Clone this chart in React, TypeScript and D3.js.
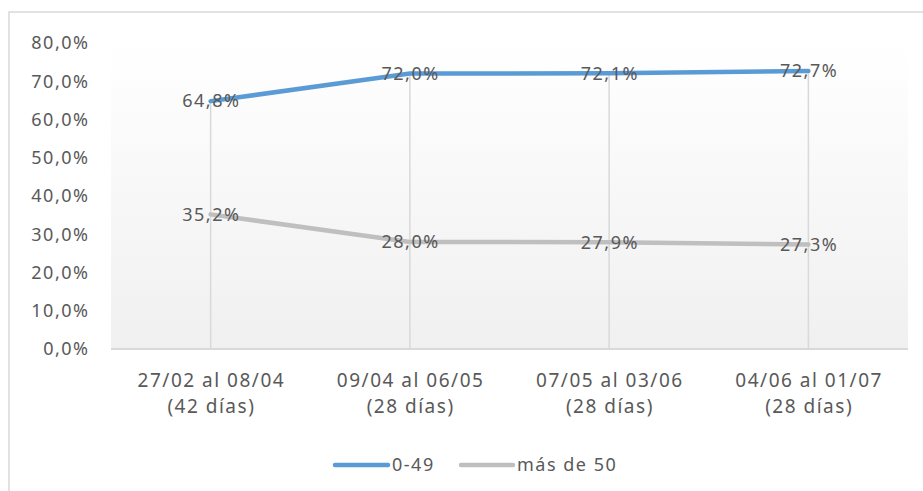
import React from "react";
import * as d3 from "d3";

const categories = ["27/02 al 08/04|(42 días)", "09/04 al 06/05|(28 días)", "07/05 al 03/06|(28 días)", "04/06 al 01/07|(28 días)"];
const series049 = [64.8, 72.0, 72.1, 72.7];
const series50 = [35.2, 28.0, 27.9, 27.3];
const yTicks = [0, 10, 20, 30, 40, 50, 60, 70, 80];
const seriesNames = ["0-49", "más de 50"];
const colors = ["#5b9bd5", "#bfbfbf"];

const W = 923, H = 491;
const left = 111, right = 908, top = 43, bottom = 349;
const FONT = "'Noto Sans', sans-serif";
const TXT = "#595959";
const LS = 1.5;

const fmt = (v: number) => v.toFixed(1).replace(".", ",") + "%";

export default function App() {
  const x = d3.scaleBand<string>().domain(categories).range([left, right]);
  const y = d3.scaleLinear().domain([0, 80]).range([bottom, top]);
  const cx = (c: string) => (x(c) as number) + x.bandwidth() / 2;
  const line = d3.line<number>().x((_, i) => cx(categories[i])).y((d) => y(d));
  const allSeries = [series049, series50];
  return (
    <svg width={W} height={H} style={{ position: "absolute", left: 0, top: 0, fontFamily: FONT }}>
      <defs>
        <linearGradient id="bg" x1="0" y1="0" x2="0" y2="1">
          <stop offset="0" stopColor="#ffffff" />
          <stop offset="1" stopColor="#f0f0f0" />
        </linearGradient>
      </defs>
      <rect x={0} y={0} width={W} height={H} fill="#ffffff" />
      <rect x={9} y={12} width={W + 20} height={H + 20} fill="#ffffff" stroke="#d9d9d9" strokeWidth={1.5} />
      <rect x={left} y={top} width={right - left} height={bottom - top} fill="url(#bg)" />
      {categories.map((c, i) => (
        <line key={c} x1={cx(c)} x2={cx(c)} y1={y(Math.max(series049[i], series50[i]))} y2={bottom} stroke="#d9d9d9" strokeWidth={1.5} />
      ))}
      <line x1={left} x2={right} y1={bottom} y2={bottom} stroke="#d9d9d9" strokeWidth={2} />
      {yTicks.map((t) => (
        <text key={t} x={88 + LS} y={y(t)} dy="0.35em" textAnchor="end" fontSize={18} letterSpacing={LS} fill={TXT}>{fmt(t)}</text>
      ))}
      {categories.map((c) => {
        const [a, b] = c.split("|");
        return (
          <text key={c} x={cx(c)} y={387} textAnchor="middle" fontSize={19} letterSpacing={LS} fill={TXT}>
            <tspan x={cx(c) + LS / 2}>{a}</tspan>
            <tspan x={cx(c) + LS / 2} dy={26}>{b}</tspan>
          </text>
        );
      })}
      {allSeries.map((s, k) => (
        <path key={k} d={line(s) as string} fill="none" stroke={colors[k]} strokeWidth={4.5} strokeLinecap="round" />
      ))}
      {allSeries.map((s, k) =>
        s.map((v, i) => (
          <text key={k + "-" + i} x={cx(categories[i]) + LS / 2} y={y(v)} dy="0.35em" textAnchor="middle" fontSize={18} letterSpacing={LS} fill={TXT}>{fmt(v)}</text>
        ))
      )}
      <line x1={335} x2={388} y1={465} y2={465} stroke={colors[0]} strokeWidth={4.5} strokeLinecap="round" />
      <text x={392} y={465} dy="0.35em" fontSize={18} letterSpacing={LS} fill={TXT}>{seriesNames[0]}</text>
      <line x1={461} x2={513} y1={465} y2={465} stroke={colors[1]} strokeWidth={4.5} strokeLinecap="round" />
      <text x={517} y={465} dy="0.35em" fontSize={18} letterSpacing={LS} fill={TXT}>{seriesNames[1]}</text>
    </svg>
  );
}
